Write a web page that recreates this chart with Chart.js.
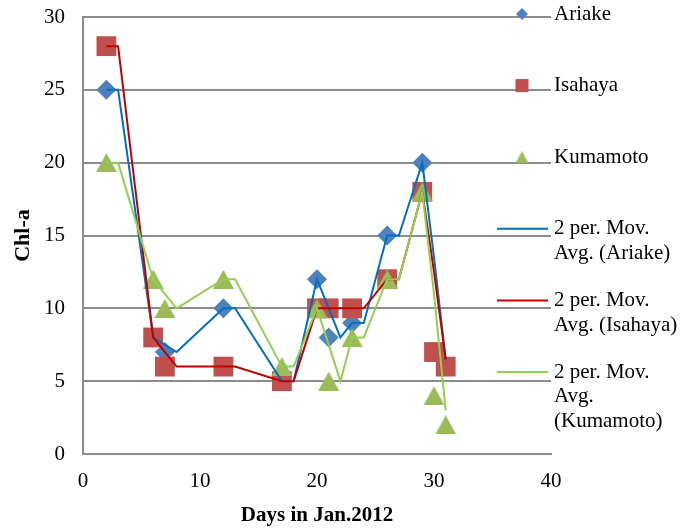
<!DOCTYPE html>
<html>
<head>
<meta charset="utf-8">
<script src="https://cdn.jsdelivr.net/npm/chart.js@4/dist/chart.umd.min.js"></script>
<style>
  html, body { margin: 0; padding: 0; background: #ffffff; }
  canvas { display: block; }
</style>
</head>
<body>
<canvas id="chl" width="697" height="529"></canvas>
<script>
// Sampling days (January 2012) and chlorophyll-a at each station
const days = [2, 6, 7, 12, 17, 20, 21, 23, 26, 29, 30, 31];
const ariake = [25, 8, 7, 10, 5, 12, 8, 9, 15, 20, 7, 6];
const isahaya = [28, 8, 6, 6, 5, 10, 10, 10, 12, 18, 7, 6];
const kumamoto = [20, 12, 10, 12, 6, 10, 5, 8, 12, 18, 4, 2];

// 2-period moving-average trend lines (vertices)
const maDays = [2, 3, 6, 7, 8, 12, 13, 17, 18, 20, 21, 22, 23, 24, 26, 27, 29, 30, 31];
const maAriake = [25, 25, 8, 7.5, 7, 10, 10, 5, 5, 12, 10, 8, 9, 9, 15, 15, 20, 13.5, 6.5];
const maIsahaya = [28, 28, 8, 7, 6, 6, 6, 5, 5, 10, 10, 10, 10, 10, 12, 12, 18, 12.5, 6.5];
const maKumamoto = [20, 20, 12, 11, 10, 12, 12, 6, 6, 10, 7.5, 5, 8, 8, 12, 12, 18, 11, 3];

// Axis ticks
const xTicks = [0, 10, 20, 30, 40];
const yTicks = [0, 5, 10, 15, 20, 25, 30];

const FONT = '"Liberation Serif", "Times New Roman", serif';

function pts(xs, ys) { return xs.map((x, i) => ({ x: x, y: ys[i] })); }

// Triangle marker whose bounding box is centred on the point
function triangleImage(w, h, color) {
  const c = document.createElement('canvas');
  c.width = w; c.height = h;
  const g = c.getContext('2d');
  g.fillStyle = color;
  g.beginPath();
  g.moveTo(w / 2, 0);
  g.lineTo(w, h);
  g.lineTo(0, h);
  g.closePath();
  g.fill();
  return c;
}

const BLUE_M = '#4F81BD', RED_M = '#C0504D', GREEN_M = '#9BBB59';
const BLUE_L = '#0070C0', RED_L = '#C00000', GREEN_L = '#92D050';

const triBig = triangleImage(21, 19, GREEN_M);
const triSmall = triangleImage(13, 12, GREEN_M);

// Legend drawn at the right side, over the plot grid
const sideLegend = {
  id: 'sideLegend',
  afterDraw(chart, args, o) {
    const ctx = chart.ctx;
    ctx.save();
    chart.data.datasets.forEach((ds, i) => {
      const y = o.top + i * o.spacing;
      if (ds.showLine) {
        ctx.strokeStyle = ds.borderColor;
        ctx.lineWidth = 2;
        ctx.beginPath();
        ctx.moveTo(o.lineX0, y);
        ctx.lineTo(o.lineX1, y);
        ctx.stroke();
      } else if (ds.legendMarker) {
        ctx.drawImage(ds.legendMarker, o.markerX - ds.legendMarker.width / 2, y - ds.legendMarker.height / 2);
      } else {
        ctx.fillStyle = ds.pointBackgroundColor;
        Chart.helpers.drawPoint(ctx, { pointStyle: ds.pointStyle, rotation: 0, radius: ds.legendRadius, borderWidth: 0 }, o.markerX, y);
      }
      ctx.fillStyle = '#000';
      ctx.font = o.font;
      ctx.textAlign = 'left';
      ctx.textBaseline = 'middle';
      ds.legendLines.forEach((t, k) => ctx.fillText(t, o.textX, y + k * o.lineHeight));
    });
    ctx.restore();
  }
};

new Chart(document.getElementById('chl'), {
  type: 'scatter',
  data: {
    datasets: [
      { label: 'Ariake', legendLines: ['Ariake'], data: pts(days, ariake),
        pointStyle: 'rectRot', pointRadius: 10, legendRadius: 6, pointBorderWidth: 0,
        pointBackgroundColor: BLUE_M, backgroundColor: BLUE_M, showLine: false, order: 5 },
      { label: 'Isahaya', legendLines: ['Isahaya'], data: pts(days, isahaya),
        pointStyle: 'rect', pointRadius: 14, legendRadius: 9.2, pointBorderWidth: 0,
        pointBackgroundColor: RED_M, backgroundColor: RED_M, showLine: false, order: 4 },
      { label: 'Kumamoto', legendLines: ['Kumamoto'], data: pts(days, kumamoto),
        pointStyle: triBig, legendMarker: triSmall, pointRadius: 10, pointBorderWidth: 0,
        pointBackgroundColor: GREEN_M, backgroundColor: GREEN_M, showLine: false, order: 3 },
      { label: '2 per. Mov. Avg. (Ariake)', legendLines: ['2 per. Mov.', 'Avg. (Ariake)'],
        data: pts(maDays, maAriake), showLine: true, borderColor: BLUE_L, borderWidth: 2,
        pointRadius: 0, tension: 0, order: 2 },
      { label: '2 per. Mov. Avg. (Isahaya)', legendLines: ['2 per. Mov.', 'Avg. (Isahaya)'],
        data: pts(maDays, maIsahaya), showLine: true, borderColor: RED_L, borderWidth: 2,
        pointRadius: 0, tension: 0, order: 1 },
      { label: '2 per. Mov. Avg. (Kumamoto)', legendLines: ['2 per. Mov.', 'Avg.', '(Kumamoto)'],
        data: pts(maDays, maKumamoto), showLine: true, borderColor: GREEN_L, borderWidth: 2,
        pointRadius: 0, tension: 0, order: 0 }
    ]
  },
  options: {
    responsive: false,
    animation: false,
    devicePixelRatio: 1,
    layout: { padding: { left: 0, right: 146, top: 17, bottom: 0 } },
    plugins: {
      legend: { display: false },
      tooltip: { enabled: false },
      sideLegend: {
        top: 14, spacing: 71.6, markerX: 522, lineX0: 497, lineX1: 548,
        textX: 554, lineHeight: 24.7, font: '21px ' + FONT
      }
    },
    scales: {
      x: {
        type: 'linear', min: 0, max: 40,
        afterBuildTicks: s => { s.ticks = xTicks.map(v => ({ value: v })); },
        afterFit: s => { s.height = 75; },
        grid: { display: false, drawTicks: false },
        border: { display: true, color: '#8C8C8C', width: 2 },
        ticks: { color: '#000', font: { family: FONT, size: 21 }, padding: 15, maxRotation: 0 },
        title: { display: true, text: 'Days in Jan.2012', color: '#000',
                 font: { family: FONT, size: 21, weight: 'bold' }, padding: { top: 0, bottom: 1 } }
      },
      y: {
        type: 'linear', min: 0, max: 30,
        afterBuildTicks: s => { s.ticks = yTicks.map(v => ({ value: v })); },
        afterFit: s => { s.width = 83; s.paddingTop = 0; s.paddingBottom = 0; },
        grid: { color: '#8C8C8C', lineWidth: 2, drawTicks: false },
        border: { display: true, color: '#8C8C8C', width: 2 },
        ticks: { color: '#000', font: { family: FONT, size: 21 }, padding: 18 },
        title: { display: true, text: 'Chl-a', color: '#000',
                 font: { family: FONT, size: 22, weight: 'bold' }, padding: { top: 10, bottom: 0 } }
      }
    }
  },
  plugins: [sideLegend]
});
</script>
</body>
</html>
